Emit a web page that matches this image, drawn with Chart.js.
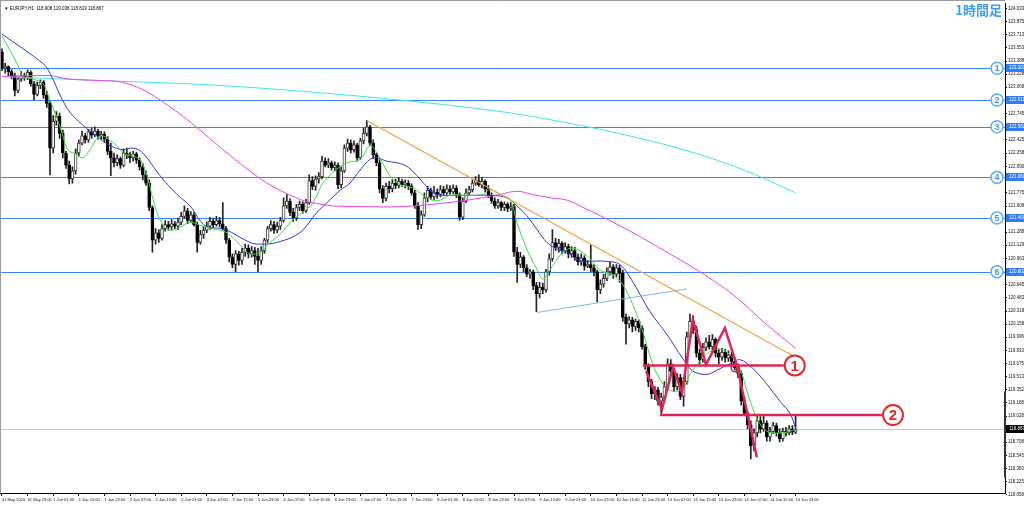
<!DOCTYPE html>
<html><head><meta charset="utf-8">
<script src="https://cdn.jsdelivr.net/npm/chart.js@4.4.1/dist/chart.umd.min.js"></script>
<style>html,body{margin:0;padding:0;background:#fff;overflow:hidden}#wrap{position:relative;width:1024px;height:506px}</style>
</head><body><div id="wrap"><canvas id="c" width="1024" height="506"></canvas></div>
<script>
const timeLabels = ["31 May 2016","31 May 23:00","1 Jun 07:00","1 Jun 15:00","1 Jun 23:00","2 Jun 07:00","2 Jun 15:00","2 Jun 23:00","3 Jun 07:00","3 Jun 15:00","5 Jun 23:00","6 Jun 07:00","6 Jun 15:00","6 Jun 23:00","7 Jun 07:00","7 Jun 15:00","7 Jun 23:00","8 Jun 07:00","8 Jun 15:00","8 Jun 23:00","9 Jun 07:00","9 Jun 15:00","9 Jun 23:00","10 Jun 07:00","10 Jun 15:00","12 Jun 23:00","13 Jun 07:00","13 Jun 15:00","13 Jun 23:00","14 Jun 07:00","14 Jun 15:00","14 Jun 23:00"];
const labelBars = [0,8,16,24,32,40,48,56,64,72,80,88,96,104,112,120,128,136,144,152,160,168,176,184,192,200,208,216,224,232,240,248];

const opens = [123.50,123.30,123.32,123.26,123.21,123.03,123.17,123.21,
123.19,123.25,123.11,122.98,123.09,123.13,122.97,122.87,
122.32,122.65,122.71,122.50,122.26,122.11,121.94,122.04,
122.26,122.38,122.47,122.42,122.52,122.48,122.53,122.47,
122.49,122.43,122.28,122.20,122.14,122.19,122.11,122.26,
122.24,122.20,122.25,122.17,122.09,121.99,121.89,121.59,
121.19,121.28,121.21,121.33,121.38,121.35,121.39,121.36,
121.41,121.48,121.55,121.43,121.50,121.38,121.16,121.26,
121.31,121.36,121.42,121.38,121.43,121.39,121.33,121.19,
120.98,120.89,121.02,120.94,121.04,121.09,121.02,121.06,
120.99,120.94,121.06,121.19,121.33,121.38,121.31,121.36,
121.43,121.61,121.67,121.53,121.46,121.59,121.63,121.55,
121.65,121.92,121.85,121.94,121.97,122.16,122.11,122.14,
122.08,122.11,121.87,122.04,122.32,122.38,122.30,122.36,
122.20,122.41,122.50,122.58,122.38,122.24,122.14,121.82,
121.70,121.85,121.82,121.89,121.86,121.91,121.87,121.89,
121.85,121.77,121.61,121.38,121.50,121.71,121.80,121.72,
121.78,121.75,121.81,121.77,121.82,121.78,121.83,121.75,
121.47,121.67,121.77,121.81,121.89,121.92,121.87,121.91,
121.82,121.74,121.67,121.61,121.65,121.59,121.63,121.58,
121.60,121.04,120.89,120.98,120.85,120.77,120.80,120.63,
120.53,120.61,120.58,120.80,120.96,121.16,121.10,121.15,
121.06,121.11,121.02,121.06,120.98,120.92,120.97,120.87,
120.89,120.85,120.80,120.58,120.65,120.72,120.80,120.86,
120.77,120.85,120.78,120.24,120.16,120.21,120.13,120.19,
120.11,119.88,119.64,119.45,119.30,119.35,119.21,119.26,
119.39,119.67,119.58,119.39,119.50,119.27,119.45,120.00,
120.19,120.09,119.80,119.72,119.87,119.94,119.88,119.97,
119.80,119.75,119.81,119.74,119.78,119.70,119.62,119.55,
119.21,119.06,118.92,118.66,118.82,118.97,118.87,118.94,
118.77,118.84,118.91,118.82,118.75,118.84,118.82,118.87,
118.83];
const highs = [123.54,123.36,123.33,123.28,123.24,123.20,123.26,123.24,
123.28,123.27,123.14,123.13,123.16,123.15,123.02,122.89,
122.72,122.77,122.75,122.54,122.28,122.16,122.09,122.31,
122.42,122.53,122.50,122.55,122.57,122.58,122.55,122.53,
122.52,122.46,122.38,122.26,122.24,122.21,122.31,122.32,
122.27,122.28,122.27,122.20,122.13,122.04,121.93,121.61,
121.33,121.32,121.38,121.43,121.42,121.44,121.42,121.46,
121.53,121.61,121.58,121.54,121.53,121.41,121.31,121.36,
121.41,121.47,121.46,121.48,121.47,121.65,121.36,121.21,
121.02,121.06,121.05,121.09,121.14,121.13,121.11,121.10,
121.09,121.11,121.21,121.36,121.43,121.42,121.41,121.47,
121.71,121.75,121.70,121.58,121.63,121.67,121.66,121.69,
121.99,121.97,121.98,122.02,122.22,122.20,122.19,122.16,
122.15,122.14,122.09,122.36,122.43,122.42,122.41,122.38,
122.44,122.57,122.66,122.60,122.42,122.26,122.18,121.86,
121.89,121.91,121.93,121.94,121.96,121.94,121.93,121.92,
121.88,121.80,121.65,121.55,121.77,121.85,121.83,121.85,
121.82,121.86,121.85,121.87,121.86,121.87,121.86,121.77,
121.71,121.82,121.85,121.93,121.97,121.99,121.96,121.93,
121.86,121.77,121.71,121.69,121.67,121.66,121.65,121.65,
121.63,121.10,121.04,121.00,120.89,120.83,120.82,120.67,
120.67,120.66,120.83,121.02,121.32,121.21,121.20,121.17,
121.16,121.14,121.11,121.10,121.02,121.02,121.00,120.94,
121.13,120.89,120.82,120.70,120.77,120.85,120.92,120.89,
120.89,120.88,120.82,120.28,120.25,120.24,120.22,120.21,
120.14,119.91,119.67,119.48,119.39,119.38,119.31,119.45,
119.73,119.72,119.61,119.55,119.54,119.50,120.06,120.28,
120.26,120.13,119.85,119.92,119.99,120.02,120.03,119.99,
119.85,119.86,119.85,119.83,119.82,119.75,119.67,119.58,
119.25,119.09,118.97,118.87,119.03,119.02,119.05,118.97,
118.89,118.95,118.94,118.87,118.88,118.89,118.91,118.91,
119.05];
const lows = [123.27,123.24,123.21,123.17,122.96,123.00,123.14,123.15,
123.16,123.08,122.91,122.96,123.05,122.93,122.82,121.99,
122.26,122.60,122.44,122.20,122.07,121.88,121.89,122.00,
122.22,122.36,122.38,122.39,122.44,122.46,122.43,122.42,
122.39,122.24,121.98,122.09,122.10,122.07,122.09,122.19,
122.14,122.16,122.13,122.05,121.93,121.86,121.55,121.04,
121.14,121.16,121.19,121.30,121.31,121.32,121.33,121.32,
121.38,121.46,121.39,121.41,121.36,121.04,121.14,121.21,
121.28,121.32,121.33,121.36,121.35,121.31,121.15,120.92,
120.85,120.80,120.88,120.89,120.99,120.97,120.98,120.89,
120.80,120.89,121.03,121.16,121.30,121.27,121.28,121.32,
121.41,121.58,121.49,121.42,121.43,121.55,121.52,121.53,
121.63,121.81,121.80,121.89,121.94,122.09,122.08,122.05,
122.04,121.82,121.83,122.02,122.28,122.26,122.27,122.16,
122.18,122.37,122.47,122.35,122.19,122.10,121.77,121.65,
121.67,121.77,121.78,121.82,121.83,121.85,121.83,121.81,
121.74,121.58,121.32,121.33,121.48,121.66,121.69,121.69,
121.70,121.72,121.74,121.75,121.75,121.76,121.71,121.43,
121.44,121.65,121.74,121.78,121.86,121.85,121.83,121.78,
121.71,121.64,121.58,121.58,121.55,121.55,121.54,121.55,
120.99,120.67,120.85,120.80,120.74,120.72,120.58,120.31,
120.48,120.53,120.55,120.76,120.93,121.06,121.04,121.02,
121.03,120.97,120.98,120.94,120.88,120.88,120.82,120.85,
120.80,120.75,120.43,120.53,120.61,120.69,120.76,120.72,
120.74,120.67,120.19,119.91,120.11,120.06,120.08,120.06,
119.85,119.60,119.39,119.24,119.23,119.16,119.06,119.22,
119.35,119.53,119.33,119.35,119.23,119.15,119.42,119.97,
120.04,119.75,119.67,119.69,119.83,119.85,119.82,119.75,
119.67,119.71,119.69,119.70,119.66,119.59,119.50,119.16,
119.03,118.87,118.50,118.60,118.77,118.82,118.84,118.72,
118.72,118.81,118.78,118.71,118.72,118.78,118.80,118.80,
118.81];
const closes = [123.30,123.32,123.26,123.21,123.03,123.17,123.21,123.19,
123.25,123.11,122.98,123.09,123.13,122.97,122.87,122.32,
122.65,122.71,122.50,122.26,122.11,121.94,122.04,122.26,
122.38,122.47,122.42,122.52,122.48,122.53,122.47,122.49,
122.43,122.28,122.20,122.14,122.19,122.11,122.26,122.24,
122.20,122.25,122.17,122.09,121.99,121.89,121.59,121.19,
121.28,121.21,121.33,121.38,121.35,121.39,121.36,121.41,
121.48,121.55,121.43,121.50,121.38,121.16,121.26,121.31,
121.36,121.42,121.38,121.43,121.39,121.33,121.19,120.98,
120.89,121.02,120.94,121.04,121.09,121.02,121.06,120.99,
120.94,121.06,121.19,121.33,121.38,121.31,121.36,121.43,
121.61,121.67,121.53,121.46,121.59,121.63,121.55,121.65,
121.92,121.85,121.94,121.97,122.16,122.11,122.14,122.08,
122.11,121.87,122.04,122.32,122.38,122.30,122.36,122.20,
122.41,122.50,122.58,122.38,122.24,122.14,121.82,121.70,
121.85,121.82,121.89,121.86,121.91,121.87,121.89,121.85,
121.77,121.61,121.38,121.50,121.71,121.80,121.72,121.78,
121.75,121.81,121.77,121.82,121.78,121.83,121.75,121.47,
121.67,121.77,121.81,121.89,121.92,121.87,121.91,121.82,
121.74,121.67,121.61,121.65,121.59,121.63,121.58,121.60,
121.04,120.89,120.98,120.85,120.77,120.80,120.63,120.53,
120.61,120.58,120.80,120.96,121.16,121.10,121.15,121.06,
121.11,121.02,121.06,120.98,120.92,120.97,120.87,120.89,
120.85,120.80,120.58,120.65,120.72,120.80,120.86,120.77,
120.85,120.78,120.24,120.16,120.21,120.13,120.19,120.11,
119.88,119.64,119.45,119.30,119.35,119.21,119.26,119.39,
119.67,119.58,119.39,119.50,119.27,119.45,120.00,120.19,
120.09,119.80,119.72,119.87,119.94,119.88,119.97,119.80,
119.75,119.81,119.74,119.78,119.70,119.62,119.55,119.21,
119.06,118.92,118.66,118.82,118.97,118.87,118.94,118.77,
118.84,118.91,118.82,118.75,118.84,118.82,118.87,118.83,
118.86];

// moving averages: [bar index, price]
const maFast = [[0,123.70],[4.7,123.36],[6.6,123.20],[9.7,123.17],[12.8,123.11],[14.4,122.97],[16.6,122.75],[18.8,122.50],[20.6,122.30],[23.4,122.24],[25.3,122.20],[27.5,122.30],[29.7,122.44],[31.6,122.47],[33.8,122.41],[35.9,122.35],[37.8,122.26],[40.9,122.22],[43.1,122.18],[45.3,121.98],[47.2,121.69],[49.4,121.44],[52.5,121.31],[55.6,121.35],[58.8,121.41],[61.9,121.37],[65.9,121.33],[70.3,121.28],[74.4,121.13],[77.5,121.02],[80.6,121.04],[83.75,121.16],[86.9,121.26],[90.9,121.44],[95.3,121.57],[97.2,121.65],[100.3,121.89],[103.4,122.02],[107.8,122.14],[111.9,122.18],[115,122.35],[117.2,122.26],[121.25,121.98],[124.4,121.87],[128.4,121.83],[131.6,121.74],[135.9,121.67],[140,121.74],[145.3,121.74],[150.3,121.75],[152.5,121.81],[155.6,121.75],[158.75,121.69],[160.9,121.41],[164,121.08],[167.2,120.83],[169,120.71],[172.2,120.88],[175.3,121.04],[178.4,121.09],[182.8,121.00],[186.9,120.82],[191,120.76],[194,120.64],[197.2,120.39],[200.3,120.06],[203.4,119.66],[206.6,119.42],[209.7,119.33],[212.8,119.37],[215,119.54],[218.1,119.70],[221.25,119.82],[224.4,119.85],[227.5,119.78],[230.6,119.61],[232.8,119.33],[235.9,119.00],[239,118.84],[243.1,118.82],[246.25,118.84],[248,118.87]];
const maMid = [[0,123.72],[12.8,123.36],[15,123.24],[20.3,122.81],[25.3,122.60],[30.6,122.44],[33.75,122.35],[37.8,122.30],[40.9,122.32],[44,122.26],[49.4,121.98],[54.7,121.75],[58.75,121.61],[63.4,121.37],[69.7,121.32],[77.5,121.16],[80.6,121.14],[85.9,121.16],[93.1,121.28],[98.4,121.53],[101.6,121.65],[105.6,121.80],[108.75,121.89],[111.9,122.05],[115.9,122.20],[120.3,122.16],[125.9,122.11],[129.7,121.98],[134.7,121.77],[137.8,121.74],[148.4,121.74],[152.5,121.74],[157.8,121.71],[160.9,121.61],[164,121.49],[167.2,121.32],[170.3,121.16],[173.4,121.08],[176.6,121.04],[179.7,120.95],[182.8,120.93],[188.4,120.93],[193.1,120.89],[197.2,120.67],[202.5,120.31],[207.8,120.03],[212.8,119.73],[215.9,119.58],[220.3,119.54],[224.4,119.61],[227.5,119.67],[230.6,119.72],[234.7,119.61],[239,119.42],[243.1,119.21],[246.25,119.06],[248,118.88]];
const maSlow = [[0,123.20],[15,123.21],[20.3,123.17],[30.6,123.15],[35.9,123.14],[40.9,123.09],[46.25,122.99],[51.6,122.85],[56.6,122.71],[61.9,122.54],[72.2,122.20],[82.8,121.89],[93.1,121.69],[98.4,121.64],[103.4,121.61],[114,121.60],[124.4,121.60],[134.7,121.63],[145.3,121.68],[155.6,121.75],[160.9,121.79],[165.9,121.75],[171.25,121.71],[176.6,121.68],[181.6,121.59],[186.9,121.49],[197.2,121.28],[207.8,121.04],[218.1,120.80],[228.4,120.52],[239,120.15],[248,119.86]];
const maLong = [[0,123.20],[30.6,123.15],[63.4,123.10],[93.1,123.02],[124.4,122.91],[155.6,122.77],[180.6,122.60],[202.5,122.41],[218.1,122.24],[233.75,122.02],[248,121.77]];

const priceTicks = [124.033,123.875,123.713,123.553,123.388,123.228,123.068,122.905,122.745,122.585,122.425,122.258,122.090,121.935,121.775,121.608,121.448,121.288,121.129,120.963,120.803,120.645,120.483,120.318,120.158,119.996,119.833,119.675,119.513,119.352,119.188,119.028,118.867,118.708,118.545,118.383,118.225,118.058];
const levelPrices = [123.301,122.911,122.582,121.960,121.460,120.802];
const levelNames = ["1","2","3","4","5","6"];
const lastPrice = 118.867;
const titleText = "\u25BC EURJPY,H1  118.908 119.038 118.819 118.867";
const headerText = "1時間足";

const trendOrange = [[114,122.66],[249.4,119.72]];
const trendLightBlue = [[167.2,120.30],[214,120.59]];
const neck1 = [[200.3,119.65],[244.3,119.65]];
const neck2 = [[205.6,119.04],[275,119.04]];
const zigzag = [[201.25,119.58],[206.25,119.11],[209.7,119.63],[212.5,119.31],[215.9,120.21],[220,119.66],[225.9,120.11],[229.7,119.64],[235.9,118.52]];
const neckNames = ["1","2"];

const pts = a => a.map(([x,y]) => ({x, y}));
const bodies = closes.map((c,i) => ({x:i, y:[opens[i], c]}));
const wicks = highs.map((h,i) => ({x:i, y:[lows[i], h]}));
const bodyFill = closes.map((c,i) => c >= opens[i] ? '#ffffff' : '#000000');
const bodyEdge = closes.map((c,i) => c >= opens[i] ? '#3a3a3a' : '#000000');

const FONT = "'Liberation Sans', Arial, sans-serif";
const lineDs = (data, color, w, order, extra) => Object.assign({type:'line', data:pts(data), borderColor:color, borderWidth:w, pointRadius:0, tension:0.35, order, fill:false}, extra||{});

const deco = {
  id:'deco',
  beforeDatasetsDraw(chart){
    const {ctx, chartArea:a, scales:{y}} = chart;
    ctx.save();
    ctx.lineWidth = 1;
    ctx.strokeStyle = '#c8c8c8';
    let py = Math.round(y.getPixelForValue(lastPrice)) + 0.5;
    ctx.beginPath(); ctx.moveTo(a.left, py); ctx.lineTo(a.right, py); ctx.stroke();
    ctx.strokeStyle = '#3b84f4';
    levelPrices.forEach(v => {
      const yy = Math.round(y.getPixelForValue(v)) + 0.5;
      ctx.beginPath(); ctx.moveTo(a.left, yy); ctx.lineTo(a.right, yy); ctx.stroke();
    });
    ctx.restore();
  },
  afterDraw(chart){
    const {ctx, chartArea:a, scales:{x,y}} = chart;
    ctx.save();
    ctx.strokeStyle = '#9a9a9a'; ctx.lineWidth = 1;
    ctx.beginPath(); ctx.moveTo(0, 0.5); ctx.lineTo(a.right, 0.5); ctx.moveTo(0.5, 0); ctx.lineTo(0.5, a.bottom); ctx.stroke();
    ctx.font = '4.5px ' + FONT; ctx.textBaseline = 'middle'; ctx.textAlign = 'left';
    levelPrices.forEach(v => {
      const yy = Math.round(y.getPixelForValue(v));
      ctx.fillStyle = '#2f7cf6'; ctx.fillRect(a.right + 1, yy - 4, 1024 - a.right - 1, 8);
      ctx.fillStyle = '#fff'; ctx.fillText(v.toFixed(3), a.right + 4, yy);
    });
    const ly = Math.round(y.getPixelForValue(lastPrice));
    ctx.fillStyle = '#000'; ctx.fillRect(a.right + 1, ly - 4, 1024 - a.right - 1, 8);
    ctx.fillStyle = '#fff'; ctx.fillText(lastPrice.toFixed(3), a.right + 4, ly);
    ctx.fillStyle = '#333';
    ctx.fillRect(a.right - 1, y.getPixelForValue(119.33), 2, y.getPixelForValue(118.27) - y.getPixelForValue(119.33));
    levelPrices.forEach((v, k) => {
      const cx = a.right - 8, cy = y.getPixelForValue(v);
      ctx.beginPath(); ctx.arc(cx, cy, 6, 0, Math.PI*2);
      ctx.fillStyle = '#ffffff'; ctx.fill();
      ctx.lineWidth = 1.5; ctx.strokeStyle = '#5aaef5'; ctx.stroke();
      ctx.fillStyle = '#3d9cf0'; ctx.font = 'bold 9px ' + FONT; ctx.textAlign = 'center'; ctx.textBaseline = 'middle';
      ctx.fillText(levelNames[k], cx, cy + 0.5);
    });
    [neck1, neck2].forEach((n, k) => {
      const cx = x.getPixelForValue(n[1][0]) + 11, cy = y.getPixelForValue(n[1][1]);
      ctx.beginPath(); ctx.arc(cx, cy, 10, 0, Math.PI*2);
      ctx.fillStyle = '#fff'; ctx.fill();
      ctx.lineWidth = 2; ctx.strokeStyle = '#e02a2a'; ctx.stroke();
      ctx.fillStyle = '#e02a2a'; ctx.font = 'bold 15px ' + FONT; ctx.textAlign = 'center'; ctx.textBaseline = 'middle';
      ctx.fillText(neckNames[k], cx, cy + 1);
    });
    ctx.beginPath(); ctx.arc(x.getPixelForValue(229.1), y.getPixelForValue(119.62), 4, 0, Math.PI*2);
    ctx.lineWidth = 1.5; ctx.strokeStyle = '#e0245a'; ctx.stroke();
    ctx.fillStyle = '#000'; ctx.font = '4.5px ' + FONT; ctx.textAlign = 'left'; ctx.textBaseline = 'middle';
    ctx.fillText(titleText, 4, 9);
    ctx.font = 'bold 13px "Noto Sans CJK JP", sans-serif'; ctx.fillStyle = '#3d9ff0'; ctx.textAlign = 'right'; ctx.textBaseline = 'middle';
    ctx.fillText(headerText, 1002, 10);
    ctx.restore();
  }
};

new Chart(document.getElementById('c'), {
  type: 'bar',
  data: { datasets: [
    lineDs(zigzag, '#e0245a', 2.5, -2, {tension:0}),
    lineDs(neck1, '#e0245a', 2.5, -2, {tension:0}),
    lineDs(neck2, '#e0245a', 2.5, -2, {tension:0}),
    lineDs(trendOrange, '#f5a040', 1.2, -1, {tension:0}),
    lineDs(trendLightBlue, '#80b4f0', 1, -1, {tension:0}),
    lineDs(maFast, '#3ade3a', 1, 0),
    lineDs(maMid, '#3434e6', 1, 0),
    lineDs(maSlow, '#f040f0', 1, 0),
    lineDs(maLong, '#3fe6e6', 1, 0),
    {type:'bar', data: bodies, backgroundColor: bodyFill, borderColor: bodyEdge, borderWidth:1, borderSkipped:false, barThickness:3, grouped:false, order:5},
    {type:'bar', data: wicks, backgroundColor:'#222', barThickness:1, grouped:false, order:6}
  ]},
  options: {
    responsive:false, animation:false, devicePixelRatio:1,
    layout:{padding:0},
    plugins:{legend:{display:false}, tooltip:{enabled:false}},
    scales:{
      x:{type:'linear', position:'bottom', min:-0.625, max:313.4375, offset:false,
        afterFit(s){ s.height = 13; },
        afterBuildTicks(s){ s.ticks = labelBars.map(v => ({value:v})); },
        ticks:{ callback:(v) => timeLabels[labelBars.indexOf(v)], align:'start', autoSkip:false, maxRotation:0, minRotation:0, padding:1, color:'#111', font:{size:4, family:FONT} },
        grid:{ display:true, drawOnChartArea:false, drawTicks:true, tickLength:3, color:'#000', offset:false },
        border:{ display:true, color:'#000' }
      },
      y:{type:'linear', position:'right', min:118.082, max:124.094,
        afterFit(s){ s.width = 19; },
        afterBuildTicks(s){ s.ticks = priceTicks.map(v => ({value:v})); },
        ticks:{ callback:(v) => Number(v).toFixed(3), autoSkip:false, padding:1, color:'#111', font:{size:4.5, family:FONT} },
        grid:{ display:true, drawOnChartArea:false, drawTicks:true, tickLength:2, color:'#000' },
        border:{ display:true, color:'#000' }
      }
    }
  },
  plugins:[deco]
});
</script>
</body></html>
